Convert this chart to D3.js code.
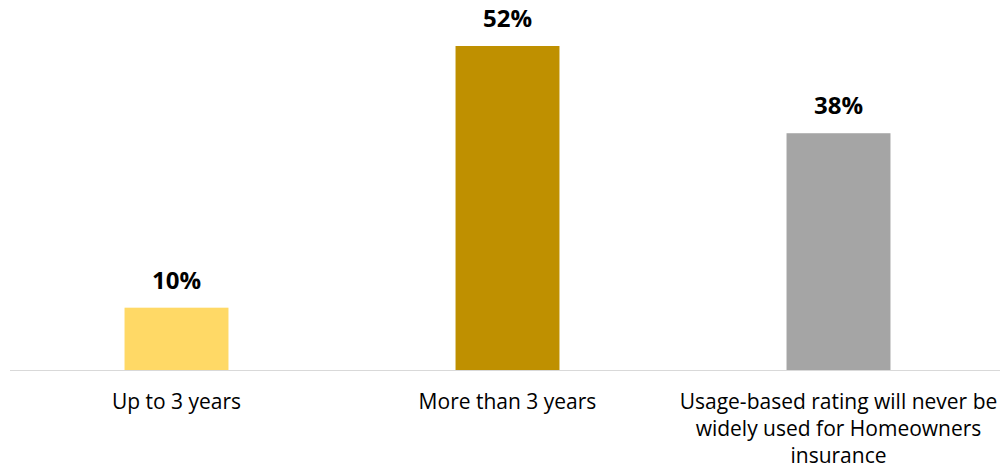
<!DOCTYPE html>
<html><head><meta charset="utf-8">
<script src="https://cdn.jsdelivr.net/npm/d3@7"></script>
<style>body{margin:0;background:#fff}svg{display:block}</style>
</head><body>
<svg id="c" width="1000" height="469"></svg>
<script>
const categories = ["Up to 3 years", "More than 3 years", "Usage-based rating will never be widely used for Homeowners insurance"];
const categoryLines = [["Up to 3 years"], ["More than 3 years"], ["Usage-based rating will never be", "widely used for Homeowners", "insurance"]];
const values = [10, 52, 38];
const valueLabels = ["10%", "52%", "38%"];
const colors = ["#FFD966", "#BF9000", "#A5A5A5"];

const svg = d3.select("#c");
const font = "'Open Sans', sans-serif";
const left = 10, right = 1000, baseY = 370;
const x = d3.scaleBand().domain(categories).range([11, 1004]).paddingInner(0.686).paddingOuter(0.343);
const y = d3.scaleLinear().domain([0, 52]).range([baseY, 46]);

svg.append("line").attr("x1", left).attr("x2", right).attr("y1", baseY + 0.5).attr("y2", baseY + 0.5)
  .attr("stroke", "#d9d9d9").attr("stroke-width", 1.2);

svg.selectAll("rect.bar").data(values).join("rect").attr("class", "bar")
  .attr("x", (d, i) => x(categories[i]))
  .attr("width", x.bandwidth())
  .attr("y", d => y(d))
  .attr("height", d => baseY - y(d))
  .attr("fill", (d, i) => colors[i]);

svg.selectAll("text.val").data(values).join("text").attr("class", "val")
  .attr("x", (d, i) => x(categories[i]) + x.bandwidth() / 2)
  .attr("y", d => y(d) - 19)
  .attr("text-anchor", "middle")
  .attr("font-family", font).attr("font-weight", "bold").attr("font-size", 24)
  .attr("fill", "#000")
  .text((d, i) => valueLabels[i]);

categories.forEach((c, i) => {
  const cx = x(c) + x.bandwidth() / 2;
  const t = svg.append("text").attr("text-anchor", "middle")
    .attr("font-family", font).attr("font-size", 21).attr("fill", "#000");
  categoryLines[i].forEach((ln, j) => {
    t.append("tspan").attr("x", cx).attr("y", 409 + j * 27).text(ln);
  });
});
</script>
</body></html>
